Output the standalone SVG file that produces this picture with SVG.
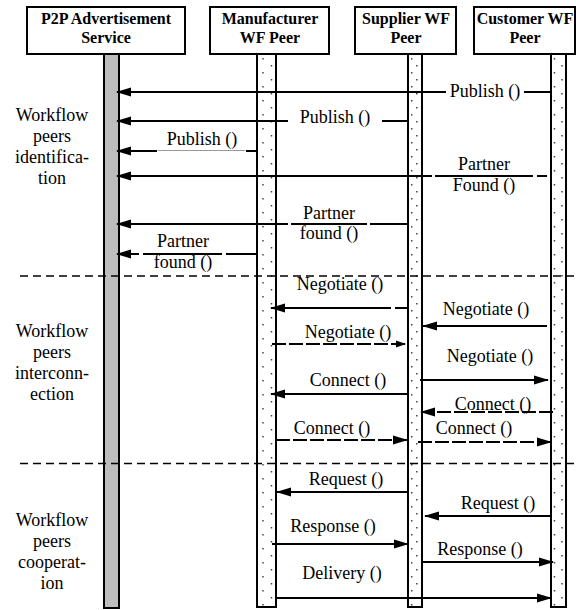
<svg xmlns="http://www.w3.org/2000/svg" width="576" height="610" viewBox="0 0 576 610">
<style>
.box{fill:#fff;stroke:#000;stroke-width:2}
.hdr{font-family:"Liberation Serif","Times New Roman",serif;font-weight:bold;font-size:16px;text-anchor:middle;fill:#000}
.lbl{font-family:"Liberation Serif","Times New Roman",serif;font-size:18px;text-anchor:middle;fill:#000}
.bar{fill:#fff;stroke:#000;stroke-width:2}
.gbar{fill:#bdbdbd;stroke:#000;stroke-width:2}
.dots{stroke:#444;stroke-width:1.5;stroke-dasharray:1.5 12.5;fill:none}
.msg{stroke:#000;stroke-width:1.8;fill:none;marker-end:url(#ah)}
.dmsg{stroke:#000;stroke-width:1.8;fill:none;stroke-dasharray:14 3;marker-end:url(#ah)}
.sep{stroke:#000;stroke-width:1.5;stroke-dasharray:8 5;fill:none}
</style>
<defs>
<marker id="ah" markerWidth="15" markerHeight="10" refX="14" refY="5" orient="auto" markerUnits="userSpaceOnUse"><path d="M0,0.5 L15,5 L0,9.5 z" fill="#000"/></marker>
<marker id="ahs" markerWidth="10" markerHeight="8" refX="9" refY="4" orient="auto" markerUnits="userSpaceOnUse"><path d="M0,0.5 L10,4 L0,7.5 z" fill="#000"/></marker>
</defs>
<rect width="576" height="610" fill="#fff"/>

<g id="p2p">
<rect class="box" x="27" y="7" width="158" height="47"/>
<text class="hdr" x="106" y="24">P2P Advertisement</text>
<text class="hdr" x="106" y="43">Service</text>
<rect class="gbar" x="104" y="54" width="15" height="554"/>
</g>
<g id="manufacturer">
<rect class="box" x="210" y="7" width="119" height="47"/>
<text class="hdr" x="270" y="24">Manufacturer</text>
<text class="hdr" x="270" y="43">WF Peer</text>
<rect class="bar" x="257" y="54" width="19" height="553"/>
<line class="dots" x1="263" y1="58" x2="263" y2="606"/>
<line class="dots" x1="271.5" y1="65" x2="271.5" y2="606"/>
</g>
<g id="supplier">
<rect class="box" x="355" y="7" width="101" height="47"/>
<text class="hdr" x="406" y="24">Supplier WF</text>
<text class="hdr" x="406" y="43">Peer</text>
<rect class="bar" x="408" y="54" width="14" height="553"/>
<line class="dots" x1="411.7" y1="58" x2="411.7" y2="606"/>
<line class="dots" x1="416.8" y1="65" x2="416.8" y2="606"/>
</g>
<g id="customer">
<rect class="box" x="474" y="7" width="101" height="47"/>
<text class="hdr" x="525" y="24">Customer WF</text>
<text class="hdr" x="525" y="43">Peer</text>
<rect class="bar" x="551" y="54" width="15" height="553"/>
<line class="dots" x1="554.5" y1="58" x2="554.5" y2="606"/>
<line class="dots" x1="562" y1="65" x2="562" y2="606"/>
</g>

<g id="phases">
<text class="lbl" x="52" y="121">Workflow</text>
<text class="lbl" x="52" y="142">peers</text>
<text class="lbl" x="52" y="163">identifica-</text>
<text class="lbl" x="52" y="184">tion</text>
<text class="lbl" x="52" y="337">Workflow</text>
<text class="lbl" x="52" y="358">peers</text>
<text class="lbl" x="52" y="379">interconn-</text>
<text class="lbl" x="52" y="400">ection</text>
<text class="lbl" x="52" y="526">Workflow</text>
<text class="lbl" x="52" y="547">peers</text>
<text class="lbl" x="52" y="568">cooperat-</text>
<text class="lbl" x="52" y="589">ion</text>
<line class="sep" x1="20" y1="276" x2="576" y2="276"/>
<line class="sep" x1="20" y1="463.5" x2="576" y2="463.5"/>
</g>

<g id="connectors">
<path class="msg" d="M551,92 H524 M446,92 H117"/>
<text class="lbl" x="485" y="97">Publish ()</text>
<path class="msg" d="M408,121 H382 M288,121 H117"/>
<text class="lbl" x="335" y="123">Publish ()</text>
<path class="msg" d="M256,151 H246 M157,151 H117"/>
<line x1="158" y1="150.5" x2="245" y2="150.5" stroke="#999" stroke-width="1"/>
<text class="lbl" x="202" y="145">Publish ()</text>
<path class="msg" d="M547,176 H537 M533,176 H435 M432,176 H117"/>
<text class="lbl" x="484" y="170">Partner</text>
<text class="lbl" x="484" y="191">Found ()</text>
<path class="msg" d="M408,224 H370 M367,224 H291 M288,224 H117"/>
<text class="lbl" x="329" y="219">Partner</text>
<text class="lbl" x="329" y="239">found ()</text>
<path class="msg" d="M256,254 H226 M222,254 H143 M139,254 H117"/>
<text class="lbl" x="183" y="247">Partner</text>
<text class="lbl" x="183" y="268">found ()</text>

<path class="msg" d="M408,308 H395 M391,308 H271"/>
<text class="lbl" x="340" y="290">Negotiate ()</text>
<path class="msg" d="M547,326 H423"/>
<text class="lbl" x="486" y="315">Negotiate ()</text>
<path class="dmsg" style="marker-end:url(#ahs)" d="M272,344 H405"/>
<text class="lbl" x="348" y="338">Negotiate ()</text>
<path class="msg" d="M420,380 H548"/>
<text class="lbl" x="490" y="362">Negotiate ()</text>
<path class="msg" d="M407,394 H271"/>
<text class="lbl" x="348" y="386">Connect ()</text>
<path class="dmsg" d="M553,412 H421"/>
<text class="lbl" x="493" y="410">Connect ()</text>
<path class="dmsg" d="M276,440 H407"/>
<text class="lbl" x="332" y="434">Connect ()</text>
<path class="dmsg" d="M418,442 H551"/>
<text class="lbl" x="474" y="434">Connect ()</text>

<path class="msg" d="M407,492 H277"/>
<text class="lbl" x="346" y="485">Request ()</text>
<path class="msg" d="M551,516 H425"/>
<text class="lbl" x="498" y="509">Request ()</text>
<path class="msg" d="M272,544 H408"/>
<text class="lbl" x="333" y="532">Response ()</text>
<path class="msg" d="M421,562 H553"/>
<text class="lbl" x="480" y="555">Response ()</text>
<path class="msg" d="M276,598 H551"/>
<text class="lbl" x="342" y="579">Delivery ()</text>
</g>
</svg>
